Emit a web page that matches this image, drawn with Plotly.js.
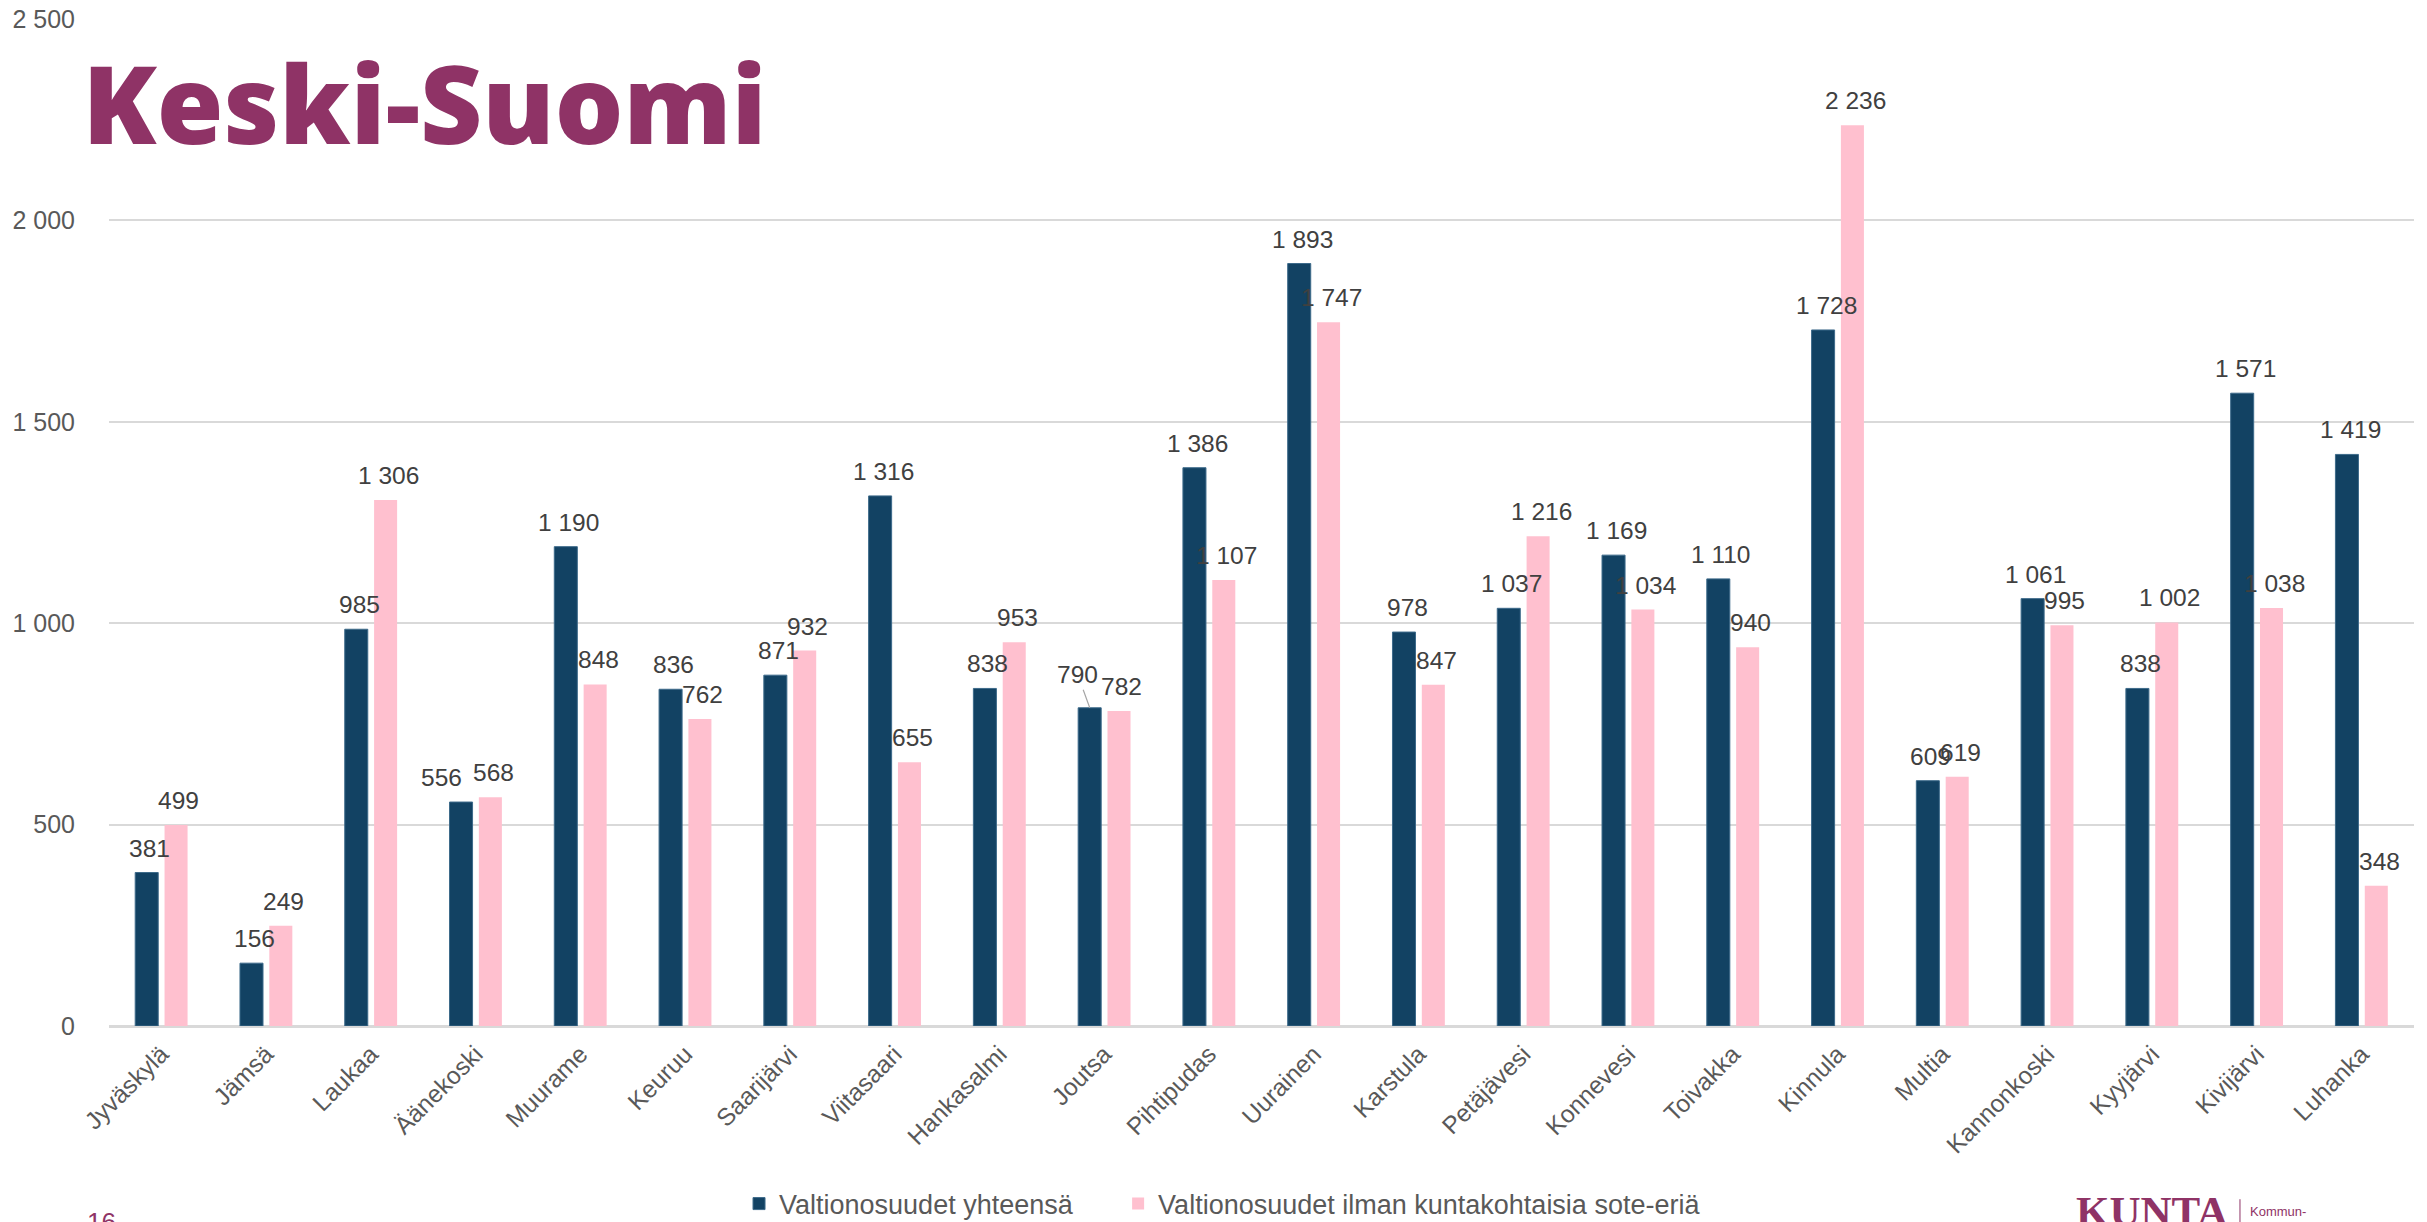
<!DOCTYPE html>
<html>
<head>
<meta charset="utf-8">
<script src="https://cdn.plot.ly/plotly-3.0.1.min.js"></script>
<style>
  html, body { margin: 0; padding: 0; background: #ffffff; }
  #chart { width: 2427px; height: 1222px; }
</style>
</head>
<body>
<div id="chart"></div>
<script>
const categories = ['Jyväskylä','Jämsä','Laukaa','Äänekoski','Muurame','Keuruu','Saarijärvi','Viitasaari','Hankasalmi','Joutsa','Pihtipudas','Uurainen','Karstula','Petäjävesi','Konnevesi','Toivakka','Kinnula','Multia','Kannonkoski','Kyyjärvi','Kivijärvi','Luhanka'];
const totalValues = [381,156,985,556,1190,836,871,1316,838,790,1386,1893,978,1037,1169,1110,1728,609,1061,838,1571,1419];
const noSoteValues = [499,249,1306,568,848,762,932,655,953,782,1107,1747,847,1216,1034,940,2236,619,995,1002,1038,348];
const seriesNames = ['Valtionosuudet yhteensä','Valtionosuudet ilman kuntakohtaisia sote-eriä'];
const yTicks = [0,500,1000,1500,2000,2500];
const titleText = 'Keski-Suomi';
const pageNumber = '16';

// label placement styling (pixel nudges, as in the original layout)
const labelNudge = [{'Äänekoski': -23}, {}];
const leaderLabel = [{'Joutsa': {ax:-12, ay:-33}}, {}];

const purple = '#8F3366';
const fmt = v => String(v).replace(/\B(?=(\d{3})+(?!\d))/g, ' ');
const labelFont = {family:'Liberation Sans, Arial, sans-serif', size:24.5, color:'#404040'};

const traces = [
  {type:'bar', name:seriesNames[0], x:categories, y:totalValues, legend:'legend',
   marker:{color:'#124263', line:{color:'#3d6a8a', width:1}}, hoverinfo:'skip'},
  {type:'bar', name:seriesNames[1], x:categories, y:noSoteValues, legend:'legend2',
   marker:{color:'#FFC0CF'}, hoverinfo:'skip'}
];

const annotations = [];
[totalValues, noSoteValues].forEach((vals, s) => {
  const base = (s === 0 ? -14.6 : 14.6) + 3;
  vals.forEach((v, i) => {
    const cat = categories[i];
    const lead = leaderLabel[s][cat];
    if (lead) {
      annotations.push({
        x: cat, y: v, xref:'x', yref:'y', text: fmt(v),
        showarrow:true, arrowhead:0, arrowwidth:1.2, arrowcolor:'#a6a6a6', standoff:0,
        ax: lead.ax, ay: lead.ay, xshift: base - 3, font: labelFont
      });
    } else {
      annotations.push({
        x: cat, y: v, xref:'x', yref:'y',
        text: fmt(v), showarrow:false, yanchor:'bottom',
        xshift: base + (labelNudge[s][cat] || 0), yshift: 9,
        font: labelFont
      });
    }
  });
});
annotations.push({
  x:-0.0104, y:-0.178, xref:'paper', yref:'paper', xanchor:'left', yanchor:'top',
  text:pageNumber, showarrow:false,
  font:{family:'Liberation Sans, Arial, sans-serif', size:26, color:purple}
});
annotations.push({
  x:0.8525, y:-0.159, xref:'paper', yref:'paper', xanchor:'left', yanchor:'top',
  text:'<b>KUNTA</b>', showarrow:false,
  font:{family:'Liberation Serif, DejaVu Serif, serif', size:43, color:purple}
});
annotations.push({
  x:0.928, y:-0.184, xref:'paper', yref:'paper', xanchor:'left', yanchor:'middle',
  text:'Kommun-', showarrow:false,
  font:{family:'Liberation Sans, Arial, sans-serif', size:13, color:purple}
});

const legendBase = {orientation:'h', xref:'container', yref:'container', y:0.0147,
  xanchor:'left', yanchor:'middle', font:{size:27, color:'#595959'}, itemwidth:30,
  bgcolor:'rgba(0,0,0,0)'};

const layout = {
  width:2427, height:1222,
  paper_bgcolor:'#ffffff', plot_bgcolor:'#ffffff',
  margin:{l:109, r:13, t:19, b:196},
  separators:', ',
  barmode:'group', bargap:0.44, bargroupgap:0.215,
  font:{family:'Liberation Sans, Arial, sans-serif', color:'#595959'},
  title:{text:titleText, xref:'container', yref:'container', x:0.034, y:0.913,
         xanchor:'left', yanchor:'middle',
         font:{family:'Open Sans, sans-serif', size:108, weight:800, color:purple}},
  xaxis:{type:'category', tickangle:-45, showgrid:false, zeroline:false, showline:false,
         ticks:'', ticklabelstandoff:8, tickfont:{size:24.5, color:'#595959'}},
  yaxis:{range:[0,2500], tickvals:yTicks, ticktext:yTicks.map(fmt), showgrid:true,
         gridcolor:'#D9D9D9', gridwidth:2, zeroline:true, zerolinecolor:'#D9D9D9', zerolinewidth:3,
         showline:false, ticks:'', ticklabelstandoff:33,
         tickfont:{size:25, color:'#595959'}},
  showlegend:true,
  legend:Object.assign({}, legendBase, {x:0.3045}),
  legend2:Object.assign({}, legendBase, {x:0.4607}),
  annotations:annotations,
  shapes:[{type:'line', xref:'paper', yref:'paper', x0:0.9245, x1:0.9245, y0:-0.172, y1:-0.21,
           line:{color:purple, width:1}}]
};

Plotly.newPlot('chart', traces, layout, {staticPlot:true, displayModeBar:false});
</script>
</body>
</html>
